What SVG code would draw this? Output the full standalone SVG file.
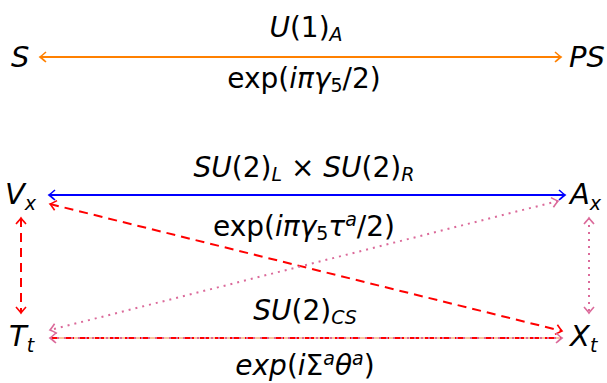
<svg xmlns="http://www.w3.org/2000/svg" width="607" height="383" viewBox="0 0 607 383">
<defs>
<style>
text{font-family:"DejaVu Sans","Liberation Sans",sans-serif;fill:#000}
.n{font-size:29px;font-style:italic}
.l{font-size:28px;text-anchor:middle}
.i{font-style:italic}
.sub{font-size:19px}
.e{fill:none;stroke-width:2}
</style>
<marker id="ao" viewBox="-8 -6 10 12" markerWidth="10" markerHeight="12" refX="0" refY="0" orient="auto-start-reverse" markerUnits="userSpaceOnUse"><path d="M-6,-5 Q-1.5,-1 0,0 Q-1.5,1 -6,5" fill="none" stroke="#FF8000" stroke-width="1.6"/></marker>
<marker id="ab" viewBox="-8 -6 10 12" markerWidth="10" markerHeight="12" refX="0" refY="0" orient="auto-start-reverse" markerUnits="userSpaceOnUse"><path d="M-6,-5 Q-1.5,-1 0,0 Q-1.5,1 -6,5" fill="none" stroke="#0000FF" stroke-width="1.6"/></marker>
<marker id="ar" viewBox="-8 -6 10 12" markerWidth="10" markerHeight="12" refX="0" refY="0" orient="auto-start-reverse" markerUnits="userSpaceOnUse"><path d="M-6,-5 Q-1.5,-1 0,0 Q-1.5,1 -6,5" fill="none" stroke="#FF0000" stroke-width="1.6"/></marker>
<marker id="ap" viewBox="-8 -6 10 12" markerWidth="10" markerHeight="12" refX="0" refY="0" orient="auto-start-reverse" markerUnits="userSpaceOnUse"><path d="M-6,-5 Q-1.5,-1 0,0 Q-1.5,1 -6,5" fill="none" stroke="#DB6A9A" stroke-width="1.6"/></marker>
</defs>
<g id="connectors">
<line class="e" x1="40" y1="57" x2="561" y2="57" stroke="#FF8000" marker-start="url(#ao)" marker-end="url(#ao)"/>
<line class="e" x1="49" y1="195" x2="565" y2="195" stroke="#0000FF" marker-start="url(#ab)" marker-end="url(#ab)"/>
<line class="e" x1="50" y1="204" x2="562" y2="331" stroke="#FF0000" stroke-dasharray="9,6" marker-start="url(#ar)" marker-end="url(#ar)"/>
<line class="e" x1="558" y1="201" x2="50" y2="330" stroke="#DB6A9A" stroke-dasharray="2,5" marker-start="url(#ap)" marker-end="url(#ap)"/>
<line class="e" x1="21" y1="218" x2="21" y2="313" stroke="#FF0000" stroke-dasharray="9,6" marker-start="url(#ar)" marker-end="url(#ar)"/>
<line class="e" x1="589" y1="218" x2="589" y2="313" stroke="#DB6A9A" stroke-dasharray="2,5" marker-start="url(#ap)" marker-end="url(#ap)"/>
<line class="e" x1="50" y1="338" x2="562" y2="338" stroke="#F8C8A0"/>
<line class="e" x1="50" y1="338" x2="562" y2="338" stroke="#FF0000" stroke-dasharray="9,6"/>
<line class="e" x1="50" y1="338" x2="562" y2="338" stroke="#DB6A9A" stroke-dasharray="2,5" marker-start="url(#ap)" marker-end="url(#ap)"/>
</g>
<g id="S"><text class="n" x="11" y="67">S</text></g>
<g id="PS"><text class="n" x="569" y="67">PS</text></g>
<g id="Vx"><text class="n" x="5" y="204">V<tspan class="sub" dy="6">x</tspan></text></g>
<g id="Ax"><text class="n" x="570" y="204">A<tspan class="sub" dy="6">x</tspan></text></g>
<g id="Tt"><text class="n" x="9" y="346">T<tspan class="sub" dy="6">t</tspan></text></g>
<g id="Xt"><text class="n" x="570" y="346">X<tspan class="sub" dy="6">t</tspan></text></g>
<g id="labels">
<text class="l" x="306" y="37"><tspan class="i">U</tspan>(1)<tspan class="sub i" dy="4">A</tspan></text>
<text class="l" x="304" y="88">exp(<tspan class="i">iπγ</tspan><tspan class="sub" dy="4">5</tspan><tspan dy="-4">/2)</tspan></text>
<text class="l" x="304" y="177"><tspan class="i">SU</tspan>(2)<tspan class="sub i" dy="4">L</tspan><tspan dy="-4"> × </tspan><tspan class="i">SU</tspan>(2)<tspan class="sub i" dy="4">R</tspan></text>
<text class="l" x="304" y="236">exp(<tspan class="i">iπγ</tspan><tspan class="sub" dy="4">5</tspan><tspan class="i" dy="-4">τ</tspan><tspan class="sub i" dy="-10">a</tspan><tspan dy="10">/2)</tspan></text>
<text class="l" x="305" y="320"><tspan class="i">SU</tspan>(2)<tspan class="sub i" dy="4">CS</tspan></text>
<text class="l" x="305" y="375"><tspan class="i">exp</tspan>(<tspan class="i">i</tspan>Σ<tspan class="sub i" dy="-10">a</tspan><tspan class="i" dy="10">θ</tspan><tspan class="sub i" dy="-10">a</tspan><tspan dy="10">)</tspan></text>
</g>
</svg>
